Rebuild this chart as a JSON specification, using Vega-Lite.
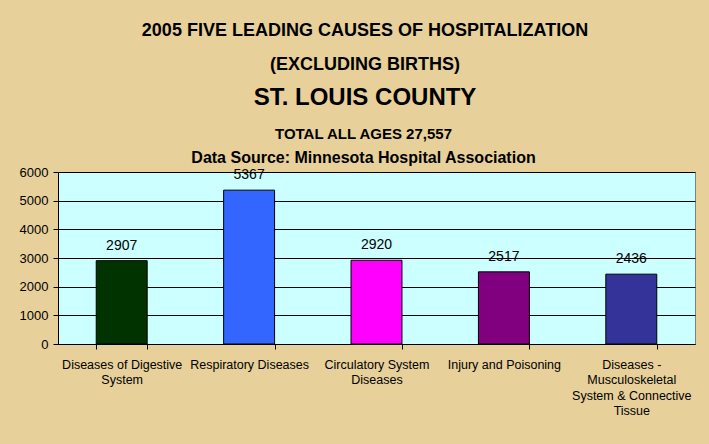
{
  "$schema": "https://vega.github.io/schema/vega-lite/v6.json",
  "background": "#e7d09a",
  "padding": {"left": 18, "top": 21, "right": 15, "bottom": 30},
  "title": {
    "text": ["2005 FIVE LEADING CAUSES OF HOSPITALIZATION", "(EXCLUDING BIRTHS)"],
    "subtitle": "ST. LOUIS COUNTY",
    "font": "Liberation Sans", "fontSize": 18, "fontWeight": "bold", "color": "#000000",
    "lineHeight": 34,
    "subtitleFont": "Liberation Sans", "subtitleFontSize": 24, "subtitleFontWeight": "bold", "subtitleColor": "#000000",
    "subtitlePadding": 12,
    "anchor": "middle", "dx": 8, "offset": 17
  },
  "vconcat": [
    {
      "width": 637,
      "height": 172,
      "title": {
        "text": "TOTAL ALL AGES 27,557",
        "subtitle": "Data Source:  Minnesota Hospital Association",
        "font": "Liberation Sans", "fontSize": 15, "fontWeight": "bold", "color": "#000000",
        "subtitleFont": "Liberation Sans", "subtitleFontSize": 16, "subtitleFontWeight": "bold", "subtitleColor": "#000000",
        "subtitlePadding": 8,
        "anchor": "middle", "dx": -13, "offset": 0
      },
      "data": {
        "values": [
          {"cause": "Diseases of Digestive System", "count": 2907},
          {"cause": "Respiratory Diseases", "count": 5367},
          {"cause": "Circulatory System Diseases", "count": 2920},
          {"cause": "Injury and Poisoning", "count": 2517},
          {"cause": "Diseases - Musculoskeletal System & Connective Tissue", "count": 2436}
        ]
      },
      "encoding": {
        "x": {
          "field": "cause", "type": "nominal", "sort": null,
          "scale": {"paddingInner": 0.6, "paddingOuter": 0.3},
          "axis": {
            "title": null, "labelAngle": 0, "tickBand": "extent",
            "labelFont": "Liberation Sans", "labelFontSize": 12.5, "labelColor": "#000000",
            "labelLineHeight": 15.5, "labelPadding": 9, "labelLimit": 0,
            "tickSize": 5, "tickColor": "#000000", "domainColor": "#000000", "grid": false,
            "labelExpr": "datum.label == 'Diseases of Digestive System' ? ['Diseases of Digestive', 'System'] : datum.label == 'Circulatory System Diseases' ? ['Circulatory System', 'Diseases'] : datum.label == 'Diseases - Musculoskeletal System & Connective Tissue' ? ['Diseases -', 'Musculoskeletal', 'System & Connective', 'Tissue'] : datum.label"
          }
        },
        "y": {
          "field": "count", "type": "quantitative",
          "scale": {"domain": [0, 6000], "nice": false},
          "axis": {
            "title": null, "values": [0, 1000, 2000, 3000, 4000, 5000, 6000], "format": "d",
            "labelFont": "Liberation Sans", "labelFontSize": 13, "labelColor": "#000000",
            "labelPadding": 5, "tickSize": 5, "tickColor": "#000000", "domainColor": "#000000",
            "grid": true, "gridColor": "#000000", "gridOpacity": 1, "gridWidth": 1
          }
        }
      },
      "layer": [
        {
          "mark": {"type": "bar", "stroke": "#000000", "strokeWidth": 1},
          "encoding": {
            "color": {
              "field": "cause", "type": "nominal", "legend": null,
              "scale": {
                "domain": ["Diseases of Digestive System", "Respiratory Diseases", "Circulatory System Diseases", "Injury and Poisoning", "Diseases - Musculoskeletal System & Connective Tissue"],
                "range": ["#003300", "#3366ff", "#ff00ff", "#800080", "#333399"]
              }
            }
          }
        },
        {
          "mark": {"type": "text", "dy": -15, "font": "Liberation Sans", "fontSize": 14, "color": "#000000", "baseline": "middle"},
          "encoding": {"text": {"field": "count", "type": "quantitative", "format": "d"}}
        }
      ]
    }
  ],
  "config": {
    "view": {"fill": "#ccffff", "stroke": "#808080", "strokeWidth": 1}
  }
}
